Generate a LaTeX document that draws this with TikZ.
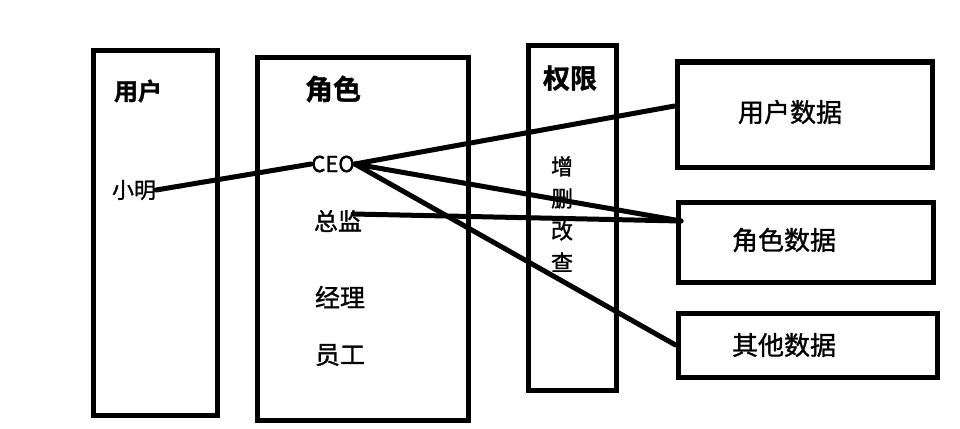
\documentclass[tikz,border=0pt]{standalone}
\usepackage{fontspec}
\newfontfamily\cjk{Noto Sans CJK SC}[FakeBold=1.2,BoldFont={Noto Sans CJK SC Bold}]
\begin{document}
\begin{tikzpicture}[
  x=1pt, y=-1pt,
  box/.style={draw=black, line width=5pt, rectangle, inner sep=0pt},
  title/.style={font=\cjk\bfseries\fontsize{24}{26}\selectfont, inner sep=0pt},
  item/.style={font=\cjk\fontsize{23}{26}\selectfont, inner sep=0pt},
  data/.style={font=\cjk\fontsize{26}{30}\selectfont, inner sep=0pt},
  link/.style={line width=5pt, line cap=round}
]
  \useasboundingbox (0,0) rectangle (960,428);
  % boxes
  \node[box, minimum width=124pt, minimum height=364pt] (user) at (155,233) {};
  \node[box, minimum width=211pt, minimum height=362pt] (role) at (362.5,239) {};
  \node[box, minimum width=88pt, minimum height=344pt] (perm) at (572,218) {};
  \node[box, minimum width=255pt, minimum height=105pt] (udata) at (804.5,114.5) {};
  \node[box, minimum width=255pt, minimum height=80pt] (rdata) at (805.5,242) {};
  \node[box, minimum width=259pt, minimum height=64pt] (odata) at (807.5,345) {};
  % titles
  \node[title] (tuser) at (138,91) {用户};
  \node[title, font=\cjk\bfseries\fontsize{28}{30}\selectfont] (trole) at (333,89) {角色};
  \node[title, font=\cjk\bfseries\fontsize{27}{30}\selectfont] (tperm) at (570,78) {权限};
  % items
  \node[item, font=\cjk\fontsize{22}{26}\selectfont] (xm) at (134,190) {小明};
  \node[item, font=\cjk\fontsize{22}{26}\selectfont] (ceo) at (333,164) {CEO};
  \node[item, font=\cjk\fontsize{24}{28}\selectfont] (zj) at (338,221) {总监};
  \node[item, font=\cjk\fontsize{25}{28}\selectfont] (jl) at (340,297) {经理};
  \node[item, font=\cjk\fontsize{25}{28}\selectfont] (yg) at (340,355) {员工};
  \node[item, align=center, font=\cjk\fontsize{22}{32}\selectfont] (crud) at (562,214) {增\\删\\改\\查};
  \node[data] (tu) at (790,112) {用户数据};
  \node[data] (tr) at (784,240) {角色数据};
  \node[data] (to) at (784,345) {其他数据};
  % connectors
  \coordinate (rdin) at (681,221);
  \coordinate (zjout) at (353,214);
  \draw[link] (xm.east) -- (ceo.west);
  \draw[link] (ceo.east) -- (udata.west |- 0,106);
  \draw[link] (ceo.east) -- (rdin);
  \draw[link] (zjout) -- (rdin);
  \draw[link] (ceo.east) -- (odata.west);
\end{tikzpicture}
\end{document}
